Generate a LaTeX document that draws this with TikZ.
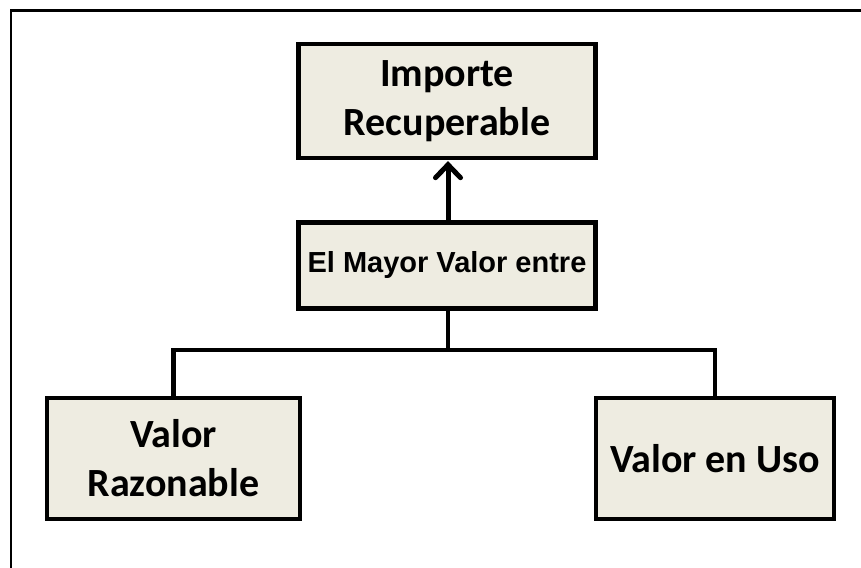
\documentclass[tikz,border=0pt]{standalone}
\usepackage{fontspec}
\setmainfont{Carlito}
\newfontfamily\arialfont{Liberation Sans}
\usetikzlibrary{arrows.meta}
\definecolor{boxfill}{HTML}{EEECE1}
\begin{document}
\begin{tikzpicture}[x=1pt,y=-1pt,
  box/.style={draw=black, line width=4.2pt, fill=boxfill, rectangle, inner sep=0pt, align=center,
              font=\fontsize{40}{49}\selectfont\bfseries},
  link/.style={draw=black, line width=4.2pt},
  frameline/.style={draw=black, line width=2.4pt}]
\useasboundingbox (0,0) rectangle (861,567);
\draw[frameline] (11,570) -- (11,10.5) -- (865,10.5);
\node[box, minimum width=297pt, minimum height=114pt] (top) at (447,101) {Importe\\Recuperable};
\node[box, minimum width=297pt, minimum height=86pt, font=\arialfont\fontsize{29}{35}\selectfont\bfseries] (mid) at (447,265.5) {El Mayor Valor entre};
\node[box, minimum width=253pt, minimum height=121pt] (left) at (173.5,458.5) {Valor\\Razonable};
\node[box, minimum width=238pt, minimum height=121pt] (right) at (715,458.5) {Valor en Uso};
\coordinate (j) at (448,350);
\draw[link, line width=5pt, -{Straight Barb[length=13pt,width=25pt,line cap=round]}] (mid.north -| j) -- ([yshift=-1pt]top.south -| j);
\draw[link] (mid.south -| j) -- (j);
\draw[link, line join=miter] (j) -| (left.north);
\draw[link, line join=miter] (j) -| (right.north);
\end{tikzpicture}
\end{document}
